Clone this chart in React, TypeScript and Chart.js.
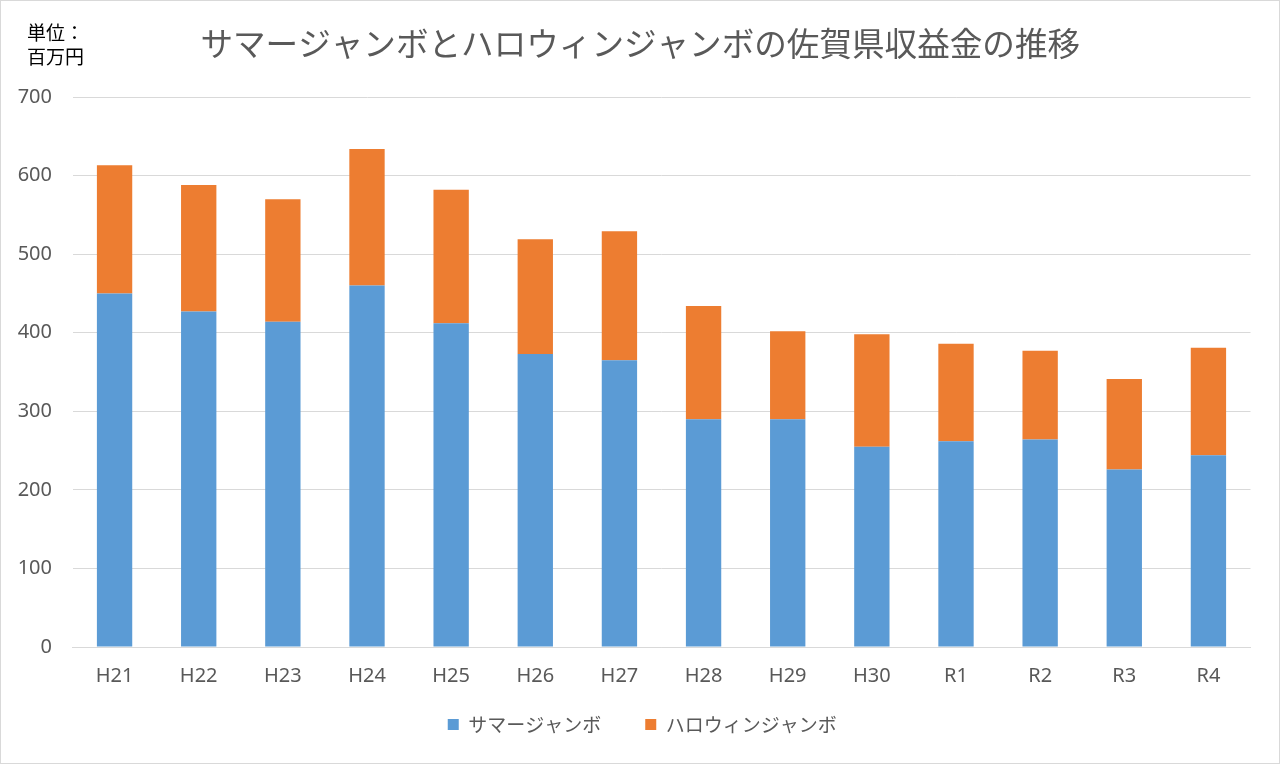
import React, { useEffect, useRef } from "react";
import { Chart, registerables } from "chart.js";

Chart.register(...registerables);

const categories = ["H21", "H22", "H23", "H24", "H25", "H26", "H27", "H28", "H29", "H30", "R1", "R2", "R3", "R4"];
const summerJumbo = [450, 427, 414, 460, 412, 373, 365, 290, 290, 255, 262, 264, 226, 244];
const halloweenJumbo = [163, 161, 156, 174, 170, 146, 164, 144, 112, 143, 124, 113, 115, 137];
const seriesNames = ["サマージャンボ", "ハロウィンジャンボ"];
const titleText = "サマージャンボとハロウィンジャンボの佐賀県収益金の推移";
const yTickStep = 100;
const yMax = 700;

const FONT = "'Noto Sans CJK JP', 'Noto Sans', sans-serif";
const NUM_FONT = "'Noto Sans', 'Noto Sans CJK JP', sans-serif";

const centerShift = {
  id: "centerShift",
  afterLayout(chart: any) {
    const t = chart.titleBlock;
    if (t) {
      t.left += 15;
      t.right += 15;
    }
    const l = chart.legend;
    if (l) {
      l.left += 17;
      l.right += 17;
    }
    const x = chart.scales.x;
    if (x) x.bottom = x.top + 50;
  },
};

export default function App() {
  const ref = useRef<HTMLCanvasElement | null>(null);

  useEffect(() => {
    document.body.style.margin = "0";
    const ctx = ref.current!.getContext("2d")!;
    const chart = new Chart(ctx, {
      type: "bar",
      data: {
        labels: categories,
        datasets: [
          { label: seriesNames[0], data: summerJumbo, backgroundColor: "#5b9bd5", borderWidth: 0 },
          { label: seriesNames[1], data: halloweenJumbo, backgroundColor: "#ed7d31", borderWidth: 0 },
        ],
      },
      options: {
        animation: false,
        responsive: false,
        maintainAspectRatio: false,
        layout: { padding: { left: 0, right: 29.5, top: 0, bottom: 20 } },
        datasets: { bar: { categoryPercentage: 1, barPercentage: 0.42 } },
        plugins: {
          title: {
            display: true,
            text: titleText,
            color: "#595959",
            font: { family: FONT, size: 32.6, weight: "normal" },
            padding: { top: 24.5, bottom: 33.4 },
          },
          legend: {
            position: "bottom",
            labels: {
              color: "#595959",
              font: { family: FONT, size: 19 },
              boxWidth: 11,
              boxHeight: 11,
              padding: 44,
            },
          },
          tooltip: { enabled: false },
        },
        scales: {
          x: {
            stacked: true,
            afterFit: (scale: any) => {
              scale.height = 24;
            },
            grid: { display: false, drawTicks: false },
            border: { display: true, color: "#d9d9d9", width: 1 },
            ticks: { color: "#595959", font: { family: NUM_FONT, size: 20 }, padding: 17 },
          },
          y: {
            stacked: true,
            min: 0,
            max: yMax,
            afterFit: (scale: any) => {
              scale.width = 72.5;
            },
            grid: { color: "#d9d9d9", lineWidth: 1, drawTicks: false },
            border: { display: false },
            ticks: { stepSize: yTickStep, color: "#595959", font: { family: NUM_FONT, size: 20 }, padding: 20.5 },
          },
        },
      },
      plugins: [centerShift],
    });
    return () => chart.destroy();
  }, []);

  return (
    <div style={{ position: "absolute", left: 0, top: 0, width: 1280, height: 764, background: "#fff" }}>
      <canvas ref={ref} width={1280} height={764} style={{ position: "absolute", left: 0, top: 0 }} />
      <div
        style={{
          position: "absolute",
          left: 0,
          top: 0,
          width: 1278,
          height: 762,
          border: "1px solid #d9d9d9",
          pointerEvents: "none",
        }}
      />
      <div
        style={{
          position: "absolute",
          left: 27,
          top: 20,
          fontFamily: FONT,
          fontSize: 19,
          lineHeight: "24px",
          color: "#000",
        }}
      >
        <div>単位：</div>
        <div>百万円</div>
      </div>
    </div>
  );
}
